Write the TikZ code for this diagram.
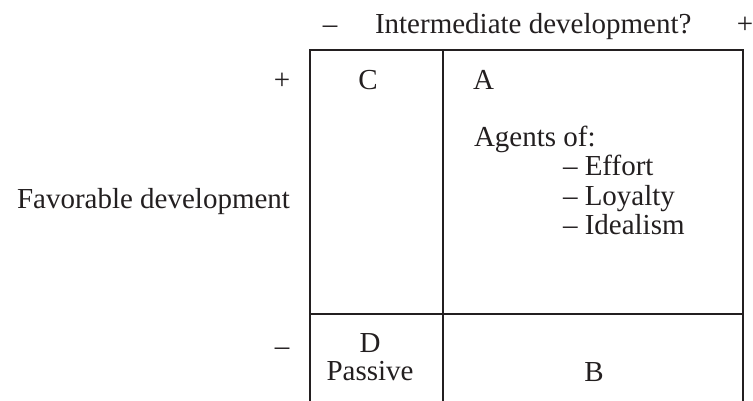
\documentclass[tikz,border=0pt]{standalone}
\usepackage{fontspec}
\setmainfont{Liberation Serif}
\definecolor{ink}{RGB}{35,31,32}
\begin{document}
\begin{tikzpicture}[x=1pt,y=-1pt,
  lbl/.style={font=\fontsize{29}{34}\selectfont, text=ink, inner sep=0pt, outer sep=0pt},
  gridline/.style={draw=ink, line width=2.3pt}]
\useasboundingbox (0,0) rectangle (753,401);
% grid corners
\coordinate (bl) at (310,401);
\coordinate (tl) at (310,50);
\coordinate (tr) at (743,50);
\coordinate (br) at (743,401);
\coordinate (mt) at (443,50);
\coordinate (mb) at (443,401);
\coordinate (hl) at (310,314);
\coordinate (hr) at (743,314);
\draw[gridline] (bl) -- (tl) -- (tr) -- (br);
\draw[gridline] (mt) -- (mb);
\draw[gridline] (hl) -- (hr);
% top axis
\node[lbl, anchor=base] (tminus) at (330,34) {–};
\node[lbl, anchor=base west] (ttitle) at (375,34) {Intermediate development?};
\node[lbl, anchor=base] (tplus) at (745,34) {+};
% left axis
\node[lbl, anchor=base] (lplus) at (282,90) {+};
\node[lbl, anchor=base east] (ltitle) at (290,208) {Favorable development};
\node[lbl, anchor=base] (lminus) at (282,355) {–};
% cells
\node[lbl, anchor=base] (C) at (368,90) {C};
\node[lbl, anchor=base west] (A) at (473,90) {A};
\node[lbl, anchor=base west] (agents) at (474,147) {Agents of:};
\node[lbl, anchor=base west] (effort) at (563,176) {– Effort};
\node[lbl, anchor=base west] (loyalty) at (563,206) {– Loyalty};
\node[lbl, anchor=base west] (idealism) at (563,235) {– Idealism};
\node[lbl, anchor=base] (D) at (370,352) {D};
\node[lbl, anchor=base] (passive) at (370,380) {Passive};
\node[lbl, anchor=base] (B) at (594,381) {B};
\end{tikzpicture}
\end{document}
